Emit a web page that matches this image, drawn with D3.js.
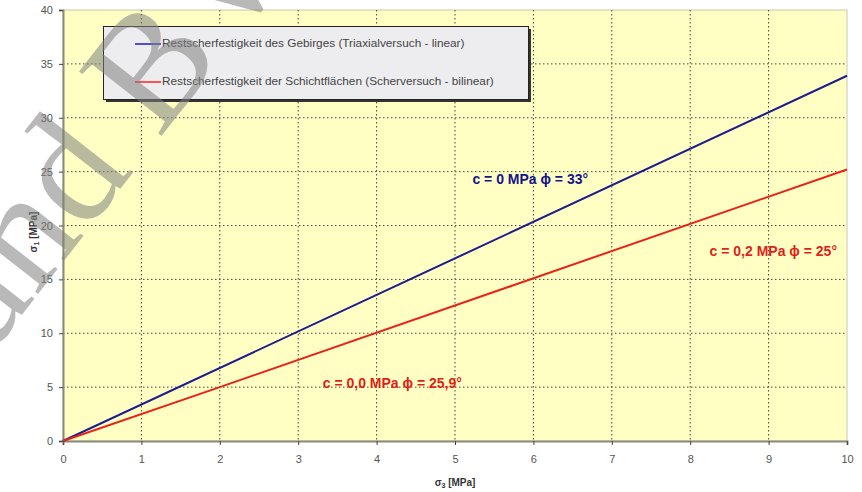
<!DOCTYPE html>
<html><head><meta charset="utf-8">
<script src="https://cdn.jsdelivr.net/npm/d3@7"></script>
<style>body{margin:0;background:#fff}svg{display:block}</style>
</head><body>
<svg id="c" width="862" height="492"></svg>
<script>
const xTicks = [0,1,2,3,4,5,6,7,8,9,10];
const yTicks = [0,5,10,15,20,25,30,35,40];
const sigma3Blue = [0, 10];
const sigma1Blue = [0, 33.9];
const sigma3Red = [0, 2, 10];
const sigma1Red = [0, 5.0, 25.2];
const seriesNames = ["Restscherfestigkeit des Gebirges (Triaxialversuch - linear)",
                     "Restscherfestigkeit der Schichtflächen (Scherversuch - bilinear)"];
const seriesColors = ["#1c1c8c", "#e8231c"];
const legendColors = ["#1a1ad0", "#ff2020"];
const annotations = [
  {text:"c = 0 MPa \u03d5 = 33°", x:5.96, y:24.2, color:"#14148a"},
  {text:"c = 0,2 MPa \u03d5 = 25°", x:9.06, y:17.5, color:"#e01f1a"},
  {text:"c = 0,0 MPa \u03d5 = 25,9°", x:4.20, y:5.3, color:"#e01f1a"}
];

const svg = d3.select("#c");
const L=63, R=847, T=10, B=441;
const x = d3.scaleLinear().domain([0,10]).range([L,R]);
const y = d3.scaleLinear().domain([0,40]).range([B,T]);

svg.append("rect").attr("x",L).attr("y",T).attr("width",R-L).attr("height",B-T)
  .attr("fill","#ffffc4").attr("stroke","#c8c8b0").attr("stroke-width",1);

// grid
const g = svg.append("g");
g.selectAll(".gx").data(xTicks.filter(d=>d>0&&d<10)).enter().append("line")
  .attr("x1",d=>x(d)).attr("x2",d=>x(d)).attr("y1",T).attr("y2",B)
  .attr("stroke","#444").attr("stroke-width",1).attr("stroke-dasharray","1.5,2.5");
g.selectAll(".gy").data(yTicks.filter(d=>d>0&&d<40)).enter().append("line")
  .attr("x1",L).attr("x2",R).attr("y1",d=>y(d)).attr("y2",d=>y(d))
  .attr("stroke","#444").attr("stroke-width",1).attr("stroke-dasharray","1.5,2.5");

// axes
const xa = svg.append("g").attr("transform",`translate(0,${B})`)
  .call(d3.axisBottom(x).tickValues(xTicks).tickSize(4).tickPadding(10).tickFormat(d3.format("d")));
const ya = svg.append("g").attr("transform",`translate(${L},0)`)
  .call(d3.axisLeft(y).tickValues(yTicks).tickSize(4).tickPadding(6).tickFormat(d3.format("d")));
[xa,ya].forEach(a=>{
  a.select(".domain").attr("stroke","#8a8a7a").attr("stroke-width",2);
  a.selectAll(".tick line").attr("stroke","#444");
  a.selectAll("text").attr("fill","#555").attr("font-family","Liberation Sans, Arial").attr("font-size","11px");
});

// lines
const line = d3.line().x(d=>x(d[0])).y(d=>y(d[1]));
svg.append("path").datum(d3.zip(sigma3Blue,sigma1Blue)).attr("d",line)
  .attr("fill","none").attr("stroke",seriesColors[0]).attr("stroke-width",2);
svg.append("path").datum(d3.zip(sigma3Red,sigma1Red)).attr("d",line)
  .attr("fill","none").attr("stroke",seriesColors[1]).attr("stroke-width",2);

// annotations
svg.selectAll(".ann").data(annotations).enter().append("text")
  .attr("x",d=>x(d.x)).attr("y",d=>y(d.y)).attr("fill",d=>d.color)
  .attr("font-family","Liberation Sans Narrow, Liberation Sans, Arial").attr("font-weight","bold")
  .attr("font-size","14px").attr("text-anchor","middle").attr("dominant-baseline","middle")
  .text(d=>d.text);

// legend
const lg = svg.append("g");
lg.append("rect").attr("x",106).attr("y",29).attr("width",425).attr("height",73).attr("fill","#333");
lg.append("rect").attr("x",103.5).attr("y",26.5).attr("width",425).attr("height",73)
  .attr("fill","#ededf0").attr("stroke","#222").attr("stroke-width",1);
seriesNames.forEach((n,i)=>{
  const yy = 44 + i*38;
  lg.append("line").attr("x1",135).attr("x2",161).attr("y1",yy).attr("y2",yy)
    .attr("stroke",legendColors[i]).attr("stroke-width",1.5);
  lg.append("text").attr("x",162).attr("y",yy).attr("dominant-baseline","middle")
    .attr("font-family","Liberation Sans, Arial").attr("font-size","11.8px").attr("fill","#444").text(n);
});

// axis titles
const xt = svg.append("text").attr("x",455).attr("y",486).attr("text-anchor","middle")
  .attr("font-family","Liberation Sans, Arial").attr("font-weight","bold").attr("font-size","10px").attr("fill","#333");
xt.append("tspan").text("\u03c3");
xt.append("tspan").attr("font-size","7px").attr("dy","2").text("3");
xt.append("tspan").attr("dy","-2").text(" [MPa]");
const yt = svg.append("text").attr("transform","translate(37,232) rotate(-90)").attr("text-anchor","middle")
  .attr("font-family","Liberation Sans, Arial").attr("font-weight","bold").attr("font-size","10px").attr("fill","#333");
yt.append("tspan").text("\u03c3");
yt.append("tspan").attr("font-size","7px").attr("dy","2").text("1");
yt.append("tspan").attr("dy","-2").text(" [MPa]");

// watermark
svg.append("text").attr("transform","translate(-8,353) rotate(-52)")
  .attr("font-family","Liberation Serif, DejaVu Serif").attr("font-size","160px")
  .attr("fill","#808080").attr("fill-opacity",0.55).text("and BV");
</script>
</body></html>
